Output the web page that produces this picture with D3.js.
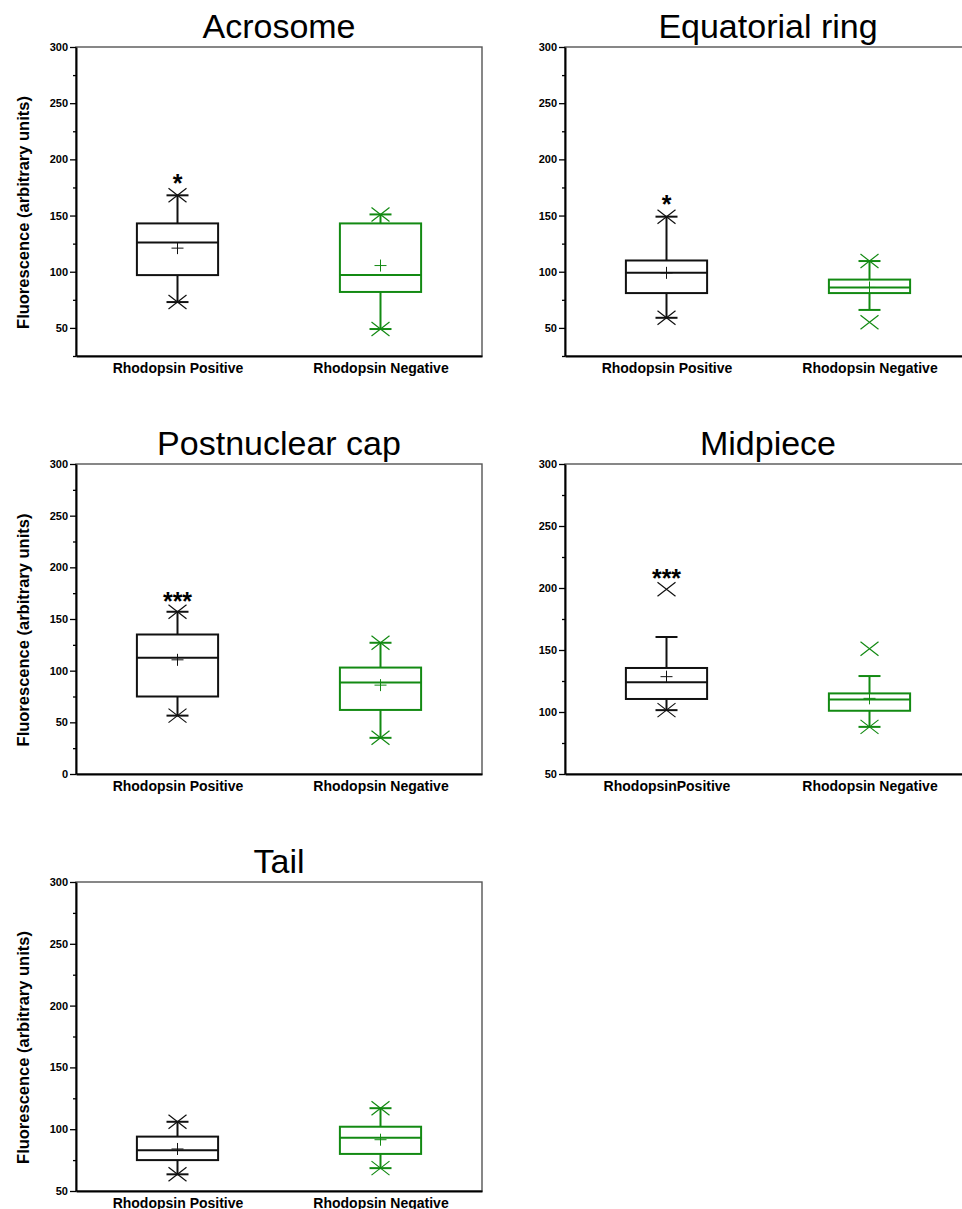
<!DOCTYPE html>
<meta charset="utf-8">
<script src="https://d3js.org/d3.v7.min.js"></script>
<style>
  body { margin: 0; background: #fff; }
  text { font-family: "Liberation Sans", Arial, sans-serif; }
</style>
<div id="chart"></div>
<script>
// panel titles and the two groups
const titles = ["Acrosome", "Equatorial ring", "Postnuclear cap", "Midpiece", "Tail"];
const groups = ["pos", "neg"];
const xLabels = [
  ["Rhodopsin Positive", "Rhodopsin Negative"],
  ["Rhodopsin Positive", "Rhodopsin Negative"],
  ["Rhodopsin Positive", "Rhodopsin Negative"],
  ["RhodopsinPositive", "Rhodopsin Negative"],
  ["Rhodopsin Positive", "Rhodopsin Negative"]
];
const yDomains = [[25, 300], [25, 300], [0, 300], [50, 300], [50, 300]];
const showYTitle = [true, false, true, false, true];

// box statistics per panel: [positive, negative]
const q1      = [[97, 82],    [81, 81],    [75, 62],     [110.5, 101], [75, 80]];
const median  = [[126, 97],   [99, 86],    [112.5, 88.5],[124, 110],   [83, 93]];
const q3      = [[143, 143],  [110, 93],   [135, 103],   [135.5, 115], [94, 102]];
const mean    = [[121, 105.5],[99, 86],    [110.5, 86],  [128.5, 111], [84, 91.5]];
const whLow   = [[73, 49],    [59, 66],    [56.5, 35],   [101.5, 88],  [63.5, 68.5]];
const whHigh  = [[168, 151],  [149, 109.5],[157, 127],   [160.5, 129], [106, 117]];
const minVal  = [[73, 49],    [59, 55],    [56.5, 35],   [101.5, 88],  [63.5, 68.5]];
const maxVal  = [[168, 151],  [149, 109.5],[157, 127],   [199, 151],   [106, 117]];

// significance marks above the positive group
const sigText = ["*", "*", "***", "***", null];
const sigY    = [183, 164.5, 172.5, 212, null];

const colors = { pos: "#111111", neg: "#138a13" };

// panel frames on the page
const frames = [
  { x: 76,  y: 47,  w: 406, h: 309 },
  { x: 565, y: 47,  w: 406, h: 309 },
  { x: 76,  y: 464, w: 406, h: 310 },
  { x: 565, y: 464, w: 406, h: 310 },
  { x: 76,  y: 882, w: 406, h: 309 }
];

const svg = d3.select("#chart").append("svg")
  .attr("width", 962)
  .attr("height", 1209);

titles.forEach((title, p) => {
  const f = frames[p];
  const g = svg.append("g").attr("transform", `translate(${f.x},${f.y})`);

  const x = d3.scalePoint().domain(groups).range([0, f.w]).padding(0.5);
  const y = d3.scaleLinear().domain(yDomains[p]).range([f.h, 0]);
  const boxW = f.w * 0.2;

  // title
  g.append("text")
    .attr("x", f.w / 2).attr("y", -9)
    .attr("text-anchor", "middle")
    .attr("font-size", 34)
    .text(title);

  // frame: top and right thinner gray
  g.append("rect")
    .attr("width", f.w).attr("height", f.h)
    .attr("fill", "none").attr("stroke", "#555").attr("stroke-width", 1.4);

  // minor ticks
  const [d0, d1] = yDomains[p];
  const minor = d3.range(d0, d1 + 1, 25).filter(v => v % 50 !== 0);
  g.append("g")
    .call(d3.axisLeft(y).tickValues(minor).tickSize(3).tickFormat(""))
    .call(a => a.select(".domain").remove())
    .selectAll("line").attr("stroke", "#000").attr("stroke-width", 1.3);

  // major ticks
  const major = d3.range(Math.ceil(d0 / 50) * 50, d1 + 1, 50);
  const ya = g.append("g")
    .call(d3.axisLeft(y).tickValues(major).tickSize(6).tickPadding(2).tickSizeOuter(0));
  ya.select(".domain").attr("stroke", "#000").attr("stroke-width", 2);
  ya.selectAll("line").attr("stroke", "#000").attr("stroke-width", 1.3);
  ya.selectAll("text")
    .attr("font-size", 11).attr("font-weight", "bold")
    .attr("font-family", "'Liberation Sans', Arial, sans-serif")
    .attr("fill", "#000");

  // x axis (no ticks)
  const xa = g.append("g")
    .attr("transform", `translate(0,${f.h})`)
    .call(d3.axisBottom(x).tickSize(0).tickPadding(6).tickSizeOuter(0)
      .tickFormat((d, i) => xLabels[p][i]));
  xa.select(".domain").attr("stroke", "#000").attr("stroke-width", 2);
  xa.selectAll("text")
    .attr("font-size", 14).attr("font-weight", "bold")
    .attr("font-family", "'Liberation Sans', Arial, sans-serif")
    .attr("dy", "0.75em")
    .attr("fill", "#000");

  // y title
  if (showYTitle[p]) {
    g.append("text")
      .attr("transform", `translate(${-47},${f.h / 2 + 11}) rotate(-90)`)
      .attr("text-anchor", "middle")
      .attr("font-size", 16.5).attr("font-weight", "bold")
      .text("Fluorescence (arbitrary units)");
  }

  groups.forEach((grp, i) => {
    const cx = x(grp);
    const c = colors[grp];
    const bg = g.append("g").attr("stroke", c).attr("fill", "none");

    // whiskers
    bg.append("line")
      .attr("x1", cx).attr("x2", cx)
      .attr("y1", y(q3[p][i])).attr("y2", y(whHigh[p][i]))
      .attr("stroke-width", 2);
    bg.append("line")
      .attr("x1", cx).attr("x2", cx)
      .attr("y1", y(q1[p][i])).attr("y2", y(whLow[p][i]))
      .attr("stroke-width", 2);
    [whLow[p][i], whHigh[p][i]].forEach(v => {
      bg.append("line")
        .attr("x1", cx - 11).attr("x2", cx + 11)
        .attr("y1", y(v)).attr("y2", y(v))
        .attr("stroke-width", 2);
    });

    // box
    bg.append("rect")
      .attr("x", cx - boxW / 2).attr("width", boxW)
      .attr("y", y(q3[p][i])).attr("height", y(q1[p][i]) - y(q3[p][i]))
      .attr("stroke-width", 2);
    bg.append("line")
      .attr("x1", cx - boxW / 2).attr("x2", cx + boxW / 2)
      .attr("y1", y(median[p][i])).attr("y2", y(median[p][i]))
      .attr("stroke-width", 2);

    // mean "+"
    const my = y(mean[p][i]);
    bg.append("path")
      .attr("d", `M${cx - 6},${my}H${cx + 6}M${cx},${my - 6}V${my + 6}`)
      .attr("stroke-width", 1);

    // min / max "x" markers
    [minVal[p][i], maxVal[p][i]].forEach(v => {
      const yy = y(v);
      bg.append("path")
        .attr("d", `M${cx - 9},${yy - 7}L${cx + 9},${yy + 7}M${cx - 9},${yy + 7}L${cx + 9},${yy - 7}`)
        .attr("stroke-width", 1.2);
    });
  });

  // significance
  if (sigText[p]) {
    g.append("text")
      .attr("x", x("pos")).attr("y", y(sigY[p]))
      .attr("dy", "0.56em")
      .attr("text-anchor", "middle")
      .attr("font-size", 25).attr("font-weight", "bold")
      .text(sigText[p]);
  }
});
</script>
